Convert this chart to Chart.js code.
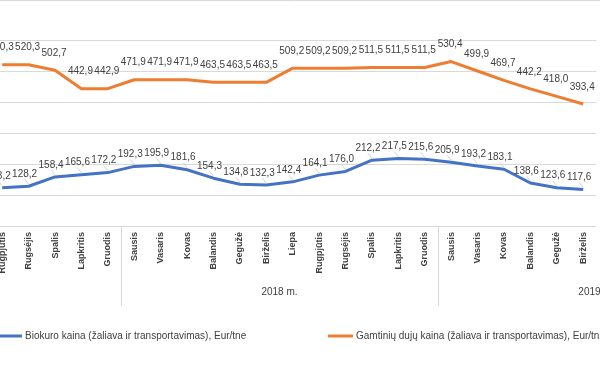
<!DOCTYPE html>
<html>
<head>
<meta charset="utf-8">
<script src="https://cdn.jsdelivr.net/npm/chart.js@4.4.0/dist/chart.umd.min.js"></script>
<style>
    html, body { margin: 0; padding: 0; background: #fff; overflow: hidden; }
    #wrap { position: absolute; left: -11px; top: 0; width: 611px; height: 390px; }
</style>
</head>
<body>
<div id="wrap"><canvas id="line-chart-kainos"></canvas></div>
<script>
var menesiai = ["Rugpjūtis", "Rugsėjis", "Spalis", "Lapkritis", "Gruodis",
    "Sausis", "Vasaris", "Kovas", "Balandis", "Gegužė", "Birželis", "Liepa",
    "Rugpjūtis", "Rugsėjis", "Spalis", "Lapkritis", "Gruodis",
    "Sausis", "Vasaris", "Kovas", "Balandis", "Gegužė", "Birželis"];
var metai = [2017, 2017, 2017, 2017, 2017,
    2018, 2018, 2018, 2018, 2018, 2018, 2018, 2018, 2018, 2018, 2018, 2018,
    2019, 2019, 2019, 2019, 2019, 2019];
var biokuras = [123.2, 128.2, 158.4, 165.6, 172.2,
    192.3, 195.9, 181.6, 154.3, 134.8, 132.3, 142.4, 164.1, 176.0, 212.2, 217.5, 215.6,
    205.9, 193.2, 183.1, 138.6, 123.6, 117.6];
var dujos = [520.3, 520.3, 502.7, 442.9, 442.9,
    471.9, 471.9, 471.9, 463.5, 463.5, 463.5, 509.2, 509.2, 509.2, 511.5, 511.5, 511.5,
    530.4, 499.9, 469.7, 442.2, 418.0, 393.4];
var visiMenesiai = ["Sausis", "Vasaris", "Kovas", "Balandis", "Gegužė", "Birželis",
    "Liepa", "Rugpjūtis", "Rugsėjis", "Spalis", "Lapkritis", "Gruodis"];

var SHIFT = 11; // canvas starts 11px left of the page
var FONT = "'Liberation Sans', Arial, sans-serif";
var TEXT = "#404040";

function fmt(v) {
    return v.toFixed(1).replace(".", ",");
}

var kainosPlugin = {
    id: "kainos",
    afterDatasetsDraw: function (chart) {
        var ctx = chart.ctx;
        ctx.save();
        ctx.font = "10px " + FONT;
        ctx.fillStyle = TEXT;
        ctx.textAlign = "center";
        ctx.textBaseline = "middle";
        chart.data.datasets.forEach(function (ds, di) {
            var meta = chart.getDatasetMeta(di);
            var dx = di === 0 ? -4 : -1;
            var dy = di === 0 ? -12 : -17;
            meta.data.forEach(function (el, i) {
                var lx = el.x + dx, ly = el.y + dy;
                if (di === 0) {
                    ctx.strokeStyle = "#bfbfbf";
                    ctx.lineWidth = 0.7;
                    ctx.beginPath();
                    ctx.moveTo(lx, ly + 5);
                    ctx.lineTo(el.x, el.y - 2);
                    ctx.stroke();
                }
                ctx.fillText(fmt(ds.data[i]), lx, ly);
            });
        });
        ctx.restore();
    },
    afterDraw: function (chart) {
        var ctx = chart.ctx;
        var x = chart.scales.x;
        var area = chart.chartArea;
        var w = x.getPixelForValue(1) - x.getPixelForValue(0);
        ctx.save();

        // top border
        ctx.strokeStyle = "#d9d9d9";
        ctx.lineWidth = 1;
        ctx.beginPath();
        ctx.moveTo(0, 0.5);
        ctx.lineTo(chart.width, 0.5);
        ctx.stroke();

        // year groups
        ctx.font = "10px " + FONT;
        ctx.fillStyle = TEXT;
        ctx.textAlign = "center";
        ctx.textBaseline = "middle";
        var seen = {};
        metai.forEach(function (m, i) {
            if (seen[m]) return;
            seen[m] = true;
            var start = x.getPixelForValue(i) - w / 2 - visiMenesiai.indexOf(menesiai[i]) * w;
            ctx.fillText(m + " m.", start + 6 * w, 292);
            if (start > area.left) {
                ctx.strokeStyle = "#d9d9d9";
                ctx.beginPath();
                ctx.moveTo(Math.round(start) + 0.5, area.bottom);
                ctx.lineTo(Math.round(start) + 0.5, 306);
                ctx.stroke();
            }
        });

        // legend
        var items = [[-4, 22, 25], [328, 353, 356]];
        ctx.font = "10px " + FONT;
        ctx.textAlign = "left";
        chart.data.datasets.forEach(function (ds, di) {
            var it = items[di];
            ctx.strokeStyle = ds.borderColor;
            ctx.lineWidth = 3;
            ctx.beginPath();
            ctx.moveTo(it[0] + SHIFT, 336);
            ctx.lineTo(it[1] + SHIFT, 336);
            ctx.stroke();
            ctx.fillStyle = TEXT;
            ctx.fillText(ds.label, it[2] + SHIFT, 336);
        });
        ctx.restore();
    }
};

var ctx = document.getElementById("line-chart-kainos");
new Chart(ctx, {
    type: "line",
    data: {
        labels: menesiai,
        datasets: [{
            label: "Biokuro kaina (žaliava ir transportavimas), Eur/tne",
            data: biokuras,
            borderColor: "#4472C4",
            borderWidth: 3,
            pointRadius: 0,
            borderJoinStyle: "round",
            fill: false
        }, {
            label: "Gamtinių dujų kaina (žaliava ir transportavimas), Eur/tne",
            data: dujos,
            borderColor: "#ED7D31",
            borderWidth: 3,
            pointRadius: 0,
            borderJoinStyle: "round",
            fill: false
        }]
    },
    options: {
        responsive: true,
        maintainAspectRatio: false,
        animation: false,
        layout: { padding: { top: 40, left: 0, right: 0, bottom: 0 } },
        plugins: {
            legend: { display: false },
            title: { display: false },
            tooltip: { enabled: false }
        },
        scales: {
            x: {
                offset: true,
                grid: { display: false, drawTicks: false },
                border: { display: false },
                ticks: {
                    autoSkip: false,
                    maxRotation: 90,
                    minRotation: 90,
                    padding: 6,
                    color: TEXT,
                    font: { family: FONT, size: 9, weight: "bold" }
                },
                afterFit: function (s) { s.height = 164; }
            },
            y: {
                min: 0,
                max: 600,
                ticks: { display: false, stepSize: 100 },
                grid: { color: "#d9d9d9", drawTicks: false },
                border: { display: false }
            }
        }
    },
    plugins: [kainosPlugin]
});
</script>
</body>
</html>
